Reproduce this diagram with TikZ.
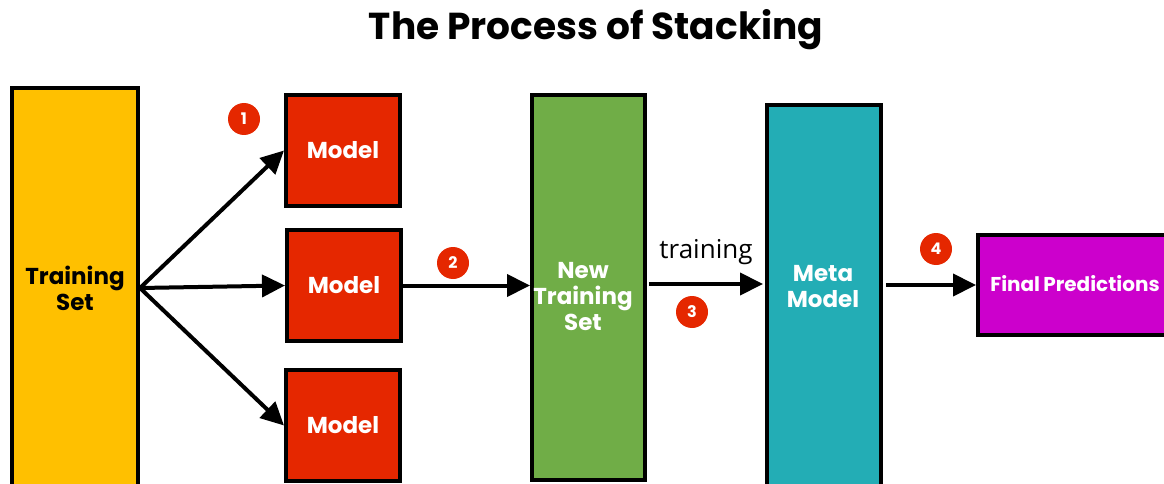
\documentclass[tikz,border=0pt]{standalone}
\usepackage{fontspec}
\setmainfont{Poppins}
\newfontfamily\opensans{Open Sans}
\usetikzlibrary{arrows.meta}
\definecolor{tsyellow}{HTML}{FFC000}
\definecolor{modelred}{HTML}{E52700}
\definecolor{newgreen}{HTML}{70AD47}
\definecolor{metateal}{HTML}{23ADB5}
\definecolor{finalmag}{HTML}{CC00CC}
\definecolor{badgered}{HTML}{E52700}
\begin{document}
\begin{tikzpicture}[x=1pt,y=-1pt,
  box/.style={draw=black,line width=4pt,inner sep=0pt,align=center,font=\fontsize{23}{26}\selectfont\bfseries},
  lbl/.style={align=center,inner sep=0pt,text=white,font=\fontsize{23}{26}\selectfont\bfseries},
  badge/.style={circle,fill=badgered,minimum size=32pt,inner sep=0pt,text=white,font=\fontsize{16}{16}\selectfont\bfseries},
  arr/.style={line width=4pt,-{Triangle[length=23pt,width=22pt]}}]
\useasboundingbox (0,0) rectangle (1164,484);
\clip (0,0) rectangle (1164,484);
% title
\node[anchor=base,inner sep=0pt,font=\fontsize{37.5}{37.5}\selectfont\bfseries] (title) at (596,40) {The Process of Stacking};
% boxes
\node[box,fill=tsyellow,minimum width=126pt,minimum height=400pt] (ts) at (75,288) {Training\\Set};
\node[box,fill=modelred,text=white,minimum width=114pt,minimum height=111pt] (m1) at (343,150.5) {Model};
\node[box,fill=modelred,text=white,minimum width=114pt,minimum height=111pt] (m2) at (344,285.5) {Model};
\node[box,fill=modelred,text=white,minimum width=114pt,minimum height=111pt] (m3) at (343,425.5) {Model};
\node[box,fill=newgreen,minimum width=113pt,minimum height=385pt] (ng) at (588.5,287.5) {};
\node[lbl] (ngt) at (583,297) {New\\Training\\Set};
\node[box,fill=metateal,minimum width=114pt,minimum height=385pt] (mm) at (824,297.5) {};
\node[lbl] (mmt) at (823,287) {Meta\\Model};
\node[box,fill=finalmag,minimum width=192pt,minimum height=100pt] (fp) at (1074,285) {};
\node[lbl,font=\fontsize{20}{24}\selectfont\bfseries] (fpt) at (1075,284) {Final\kern-1pt\ Predictions};
% badges
\node[badge] (b1) at (244,119) {1};
\node[badge] (b2) at (453,263) {2};
\node[badge] (b3) at (692,312) {3};
\node[badge] (b4) at (936,249) {4};
\node[inner sep=0pt,font=\opensans\fontsize{26}{26}\selectfont] (tr) at (706,252) {training};
% arrows
\draw[arr] (ts.east) -- (m1.west);
\draw[arr] (ts.east) -- (m2.west);
\draw[arr] (ts.east) -- (m3.west);
\draw[arr] (m2.east) -- (m2.east -| ng.west);
\draw[arr] ([xshift=2pt,yshift=3.5pt]ng.east) -- ([xshift=-2pt,yshift=3.5pt]ng.east -| mm.west);
\draw[arr] ([xshift=3pt]mm.east |- fp.west) -- (fp.west);
\end{tikzpicture}
\end{document}
